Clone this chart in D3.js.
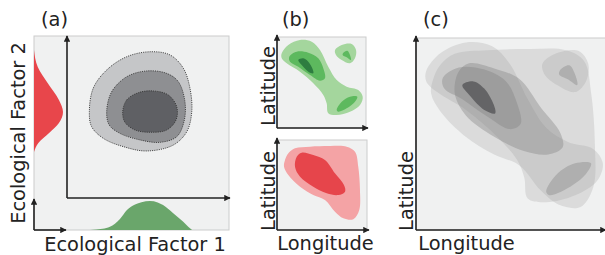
<!DOCTYPE html>
<html>
<head>
<meta charset="utf-8">
<script src="https://cdn.jsdelivr.net/npm/d3@7"></script>
<style>
  body { margin: 0; background: #fff; }
  text { font-family: "DejaVu Sans", sans-serif; fill: #222; }
</style>
</head>
<body>
<div id="chart"></div>
<script>
// panel labels and axis titles
const panelLabels = ["(a)", "(b)", "(c)"];
const nicheAxisTitles = ["Ecological Factor 1", "Ecological Factor 2"];
const geoAxisTitles = ["Longitude", "Latitude"];

// (a) marginal densities, factor value -> relative density
const redMarginFactor2 = [2.88, 3.44, 4.06, 4.69, 5.38, 6.13, 7.19, 8.19, 9.25];
const redMarginDensity = [0, 0.15, 0.52, 0.86, 1.0, 0.86, 0.47, 0.13, 0];
const greenMarginFactor1 = [1.42, 2.2, 2.65, 3.27, 3.7, 4.2, 4.6, 5.12, 5.6, 5.93, 6.54, 7.16, 7.5, 7.72];
const greenMarginDensity = [0, 0.04, 0.11, 0.38, 0.69, 0.88, 0.96, 1.0, 0.95, 0.86, 0.59, 0.29, 0.1, 0];

// (a) niche contours [factor1, factor2]
const nicheOuter = [[1.38,5.39],[1.62,6.86],[2.45,8.0],[3.69,8.83],[5.12,9.14],[6.36,8.94],[7.18,8.11],[7.59,6.86],[7.7,5.39],[7.39,4.14],[6.56,3.31],[4.92,2.94],[3.48,3.21],[2.24,3.73],[1.52,4.46]];
const nicheMiddle = [[2.45,5.39],[2.76,6.64],[3.69,7.58],[4.92,7.94],[6.15,7.79],[6.87,7.27],[7.28,6.02],[7.22,4.77],[6.77,3.83],[5.74,3.48],[4.51,3.63],[3.27,4.04],[2.61,4.56]];
const nicheInner = [[3.44,5.39],[3.69,6.13],[4.4,6.58],[5.33,6.69],[6.25,6.44],[6.77,5.71],[6.73,4.88],[6.15,4.25],[5.12,4.11],[4.2,4.25],[3.58,4.73]];

// (b) green species range contours [longitude, latitude]
const greenOuterMain = [[0.53,8.21],[1.27,9.12],[2.58,9.67],[3.9,9.48],[4.83,8.57],[5.76,6.74],[6.71,5.27],[7.83,4.54],[9.13,4.18],[9.63,3.44],[9.33,2.53],[8.2,1.79],[6.71,1.43],[5.76,1.62],[5.58,2.71],[5.2,3.63],[4.08,4.91],[2.58,6.19],[1.09,7.11],[0.53,7.66]];
const greenOuterIsland = [[6.52,8.57],[7.27,9.12],[8.39,9.23],[8.88,8.57],[8.76,7.66],[8.2,7.11],[7.27,7.47],[6.63,8.02]];
const greenMidMain = [[1.38,7.84],[2.21,8.38],[3.52,8.27],[4.64,7.66],[5.2,6.56],[5.39,5.46],[4.83,5.2],[3.71,5.82],[2.39,6.74],[1.46,7.29]];
const greenMidIsland = [[7.45,8.27],[7.9,8.49],[8.2,8.02],[8.31,7.47],[7.83,7.77],[7.38,8.02]];
const greenMidSouth = [[6.71,1.98],[7.27,2.89],[8.2,3.44],[9.02,3.44],[8.76,2.89],[7.83,2.16],[6.88,1.79]];
const greenCore = [[2.39,7.47],[2.96,7.66],[3.52,7.29],[4.01,6.45],[4.08,6.01],[3.52,6.19],[2.78,6.92]];

// (b) red species range contours
const redOuter = [[0.89,7.78],[1.26,8.52],[2.0,9.08],[3.67,9.26],[5.89,9.33],[7.74,9.26],[8.67,8.7],[9.03,7.03],[9.22,4.44],[9.14,2.22],[8.48,1.19],[7.37,1.3],[6.44,2.03],[5.33,3.33],[4.03,3.89],[2.56,4.81],[1.26,6.11],[0.78,7.03]];
const redCore = [[2.0,7.03],[2.19,8.14],[2.74,8.59],[4.03,8.33],[5.33,7.78],[6.44,6.3],[7.44,5.0],[7.56,4.26],[6.81,3.89],[5.52,4.08],[4.03,4.81],[2.56,5.92]];

const width = 605;
const height = 255;
const fontSize = 19.4;
const panelBg = "#f0f1f1";
const panelBorder = "#cbcccc";
const axisColor = "#222";

const svg = d3.select("#chart").append("svg")
  .attr("width", width)
  .attr("height", height);

svg.append("defs").append("marker")
  .attr("id", "arrow")
  .attr("viewBox", "0 0 10 10")
  .attr("refX", 9).attr("refY", 5)
  .attr("markerWidth", 4).attr("markerHeight", 4)
  .attr("markerUnits", "strokeWidth")
  .attr("orient", "auto")
  .append("path")
  .attr("d", "M0,0L10,5L0,10z")
  .attr("fill", axisColor);

function panelBox(x, y, w, h) {
  svg.append("rect")
    .attr("x", x).attr("y", y)
    .attr("width", w).attr("height", h)
    .attr("fill", panelBg)
    .attr("stroke", panelBorder)
    .attr("stroke-width", 1);
}

function arrowAxis(x1, y1, x2, y2) {
  svg.append("line")
    .attr("x1", x1).attr("y1", y1)
    .attr("x2", x2).attr("y2", y2)
    .attr("stroke", axisColor)
    .attr("stroke-width", 1.6)
    .attr("marker-end", "url(#arrow)");
}

function shape(g, pts, xs, ys, fill, opacity) {
  const line = d3.line()
    .x(d => xs(d[0]))
    .y(d => ys(d[1]))
    .curve(d3.curveCatmullRomClosed.alpha(0.5));
  return g.append("path")
    .attr("d", line(pts))
    .attr("fill", fill)
    .attr("fill-opacity", opacity);
}

// ---------- panel (a) ----------
panelBox(34, 36, 195, 194);

const xA = d3.scaleLinear().domain([0, 10]).range([67, 229]);
const yA = d3.scaleLinear().domain([0, 10]).range([198, 38]);
const densGreen = d3.scaleLinear().domain([0, 1]).range([230, 201]);
const densRed = d3.scaleLinear().domain([0, 1]).range([34, 63]);

const gA = svg.append("g");

const redMargin = redMarginFactor2.map((v, i) => ({v: v, d: redMarginDensity[i]}));
gA.append("path")
  .attr("d", d3.area()
    .y(d => yA(d.v))
    .x0(densRed(0))
    .x1(d => densRed(d.d))
    .curve(d3.curveMonotoneY)(redMargin))
  .attr("fill", "#e8464b");

const greenMargin = greenMarginFactor1.map((v, i) => ({v: v, d: greenMarginDensity[i]}));
gA.append("path")
  .attr("d", d3.area()
    .x(d => xA(d.v))
    .y0(densGreen(0))
    .y1(d => densGreen(d.d))
    .curve(d3.curveMonotoneX)(greenMargin))
  .attr("fill", "#6aa66b");

[[nicheOuter, "#c5c6c8"], [nicheMiddle, "#8e8f92"], [nicheInner, "#5f6064"]].forEach(([pts, c]) => {
  shape(gA, pts, xA, yA, c, 1)
    .attr("stroke", "#333")
    .attr("stroke-width", 0.9)
    .attr("stroke-dasharray", "1.1,1.1");
});

arrowAxis(xA(0), yA(0), xA(0), 36);
arrowAxis(xA(0), yA(0), 230, yA(0));
arrowAxis(densRed(0), densGreen(0), densRed(0), 199);
arrowAxis(densRed(0), densGreen(0), 66, densGreen(0));

// ---------- panel (b) ----------
panelBox(277, 37, 89, 91);
panelBox(277, 140, 90, 90);

const xBg = d3.scaleLinear().domain([0, 10]).range([277, 366]);
const yBg = d3.scaleLinear().domain([0, 10]).range([128, 37]);
const xBr = d3.scaleLinear().domain([0, 10]).range([277, 367]);
const yBr = d3.scaleLinear().domain([0, 10]).range([230, 140]);

const gB = svg.append("g");
shape(gB, greenOuterMain, xBg, yBg, "#a4d69d", 1);
shape(gB, greenOuterIsland, xBg, yBg, "#a4d69d", 1);
shape(gB, greenMidMain, xBg, yBg, "#5db95e", 1);
shape(gB, greenMidIsland, xBg, yBg, "#5db95e", 1);
shape(gB, greenMidSouth, xBg, yBg, "#5db95e", 1);
shape(gB, greenCore, xBg, yBg, "#2e7d40", 1);

shape(gB, redOuter, xBr, yBr, "#f4a3a5", 1);
shape(gB, redCore, xBr, yBr, "#e6454b", 1);

arrowAxis(xBg(0), yBg(0), xBg(0), 35);
arrowAxis(xBg(0), yBg(0), 368, yBg(0));
arrowAxis(xBr(0), yBr(0), xBr(0), 138);
arrowAxis(xBr(0), yBr(0), 369, yBr(0));

// ---------- panel (c) ----------
panelBox(416, 38, 195, 192);

const xC = d3.scaleLinear().domain([0, 10]).range([416, 610]);
const yC = d3.scaleLinear().domain([0, 10]).range([230, 36]);

const gC = svg.append("g");
const overlayLayers = [
  [redOuter, "#9a9a9a", 0.25],
  [greenOuterMain, "#9a9a9a", 0.25],
  [greenOuterIsland, "#9a9a9a", 0.25],
  [redCore, "#7c7c7c", 0.36],
  [greenMidMain, "#7c7c7c", 0.36],
  [greenMidIsland, "#7c7c7c", 0.36],
  [greenMidSouth, "#7c7c7c", 0.36],
  [greenCore, "#4a4a4c", 0.68]
];
overlayLayers.forEach(([pts, c, o]) => shape(gC, pts, xC, yC, c, o));

arrowAxis(xC(0), yC(0), xC(0), 36);
arrowAxis(xC(0), yC(0), 606, yC(0));

// ---------- texts ----------
const labelX = [41, 282, 423];
svg.selectAll("text.panel")
  .data(panelLabels)
  .enter().append("text")
  .attr("class", "panel")
  .attr("x", (d, i) => labelX[i])
  .attr("y", 26)
  .attr("font-size", fontSize)
  .text(d => d);

svg.append("text")
  .attr("x", 135).attr("y", 251)
  .attr("text-anchor", "middle")
  .attr("font-size", fontSize)
  .text(nicheAxisTitles[0]);

svg.append("text")
  .attr("transform", "translate(24.5,133) rotate(-90)")
  .attr("text-anchor", "middle")
  .attr("font-size", fontSize)
  .text(nicheAxisTitles[1]);

[[325.5, 250], [466.5, 250]].forEach(([x, y]) => {
  svg.append("text")
    .attr("x", x).attr("y", y)
    .attr("text-anchor", "middle")
    .attr("font-size", fontSize)
    .text(geoAxisTitles[0]);
});

[[275, 86], [275, 191], [413, 191]].forEach(([x, y]) => {
  svg.append("text")
    .attr("transform", `translate(${x},${y}) rotate(-90)`)
    .attr("text-anchor", "middle")
    .attr("font-size", fontSize)
    .text(geoAxisTitles[1]);
});
</script>
</body>
</html>
